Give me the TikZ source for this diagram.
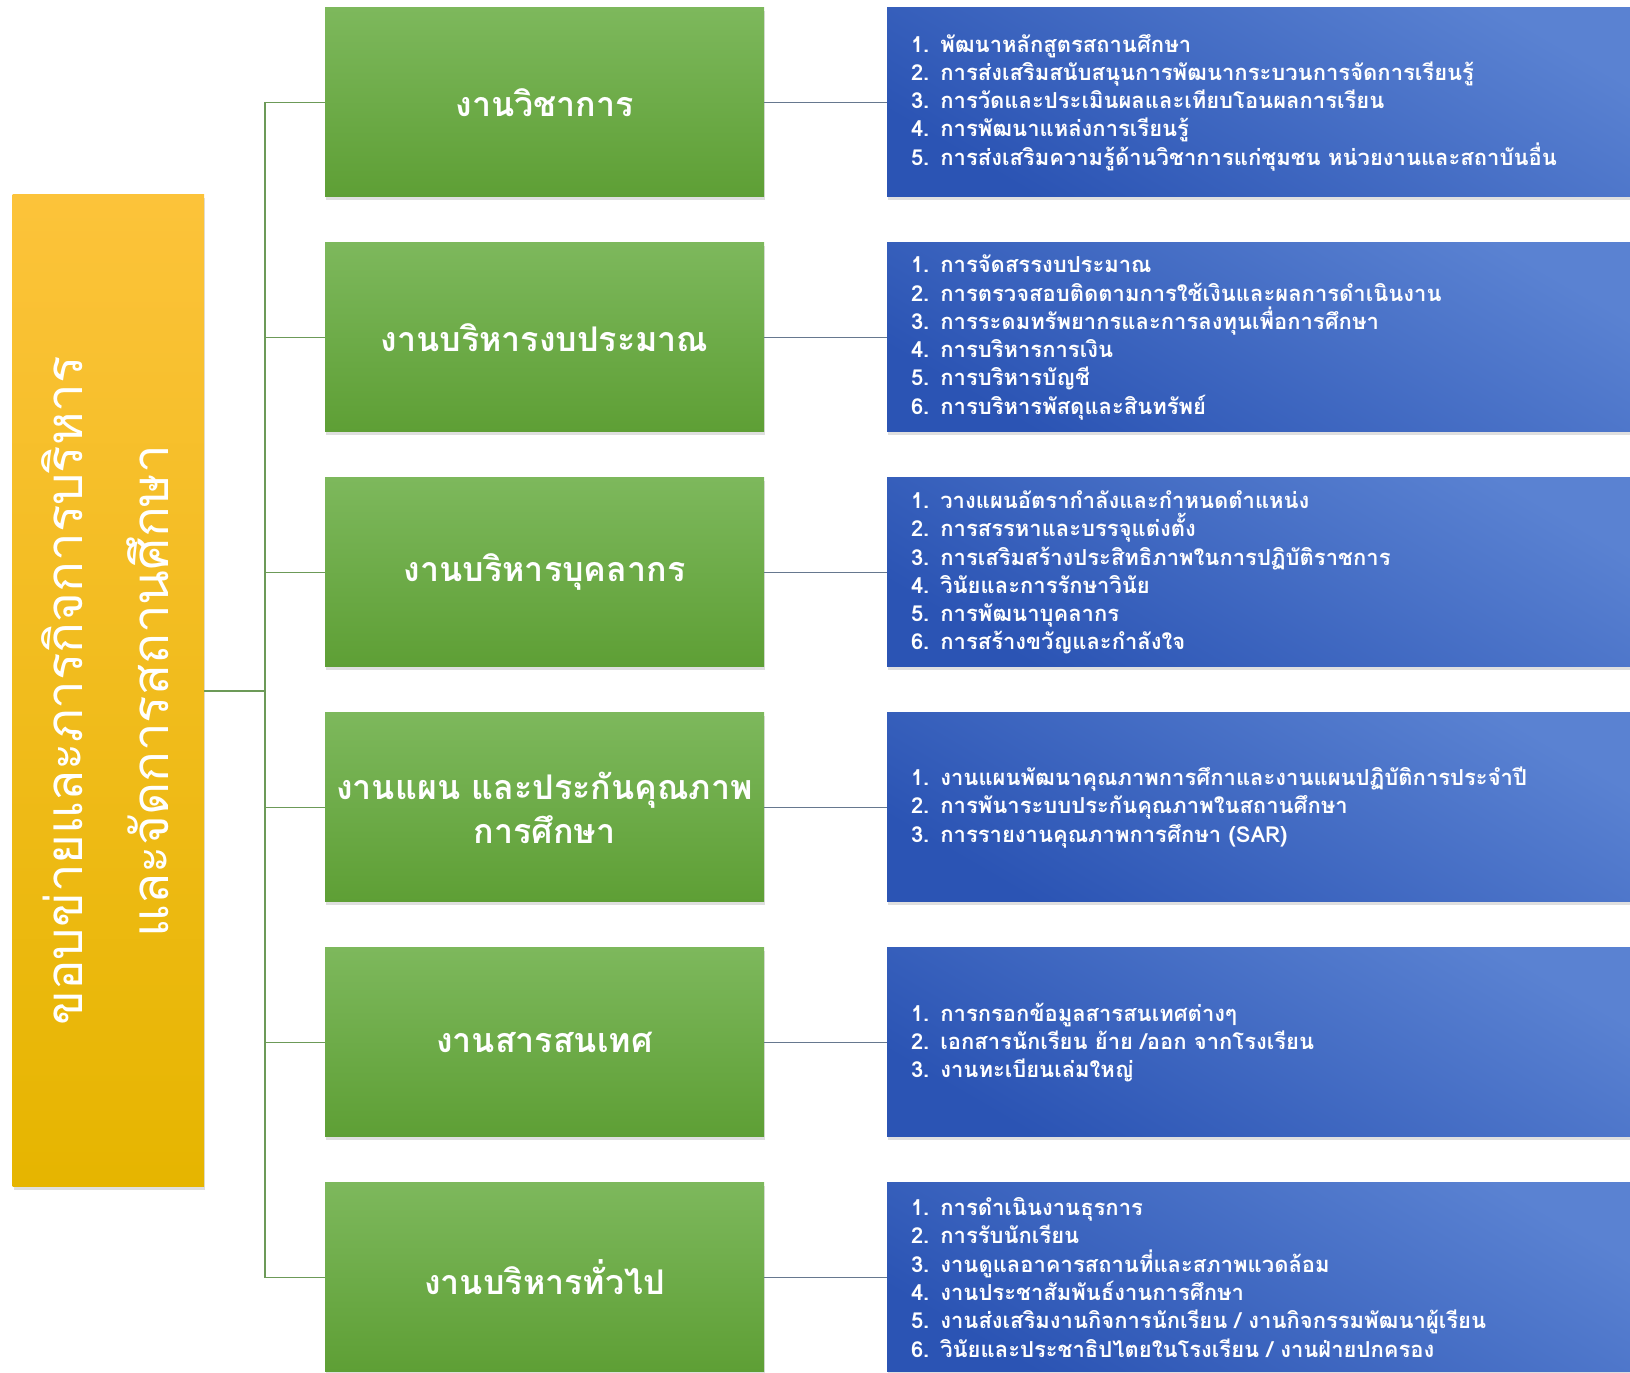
\documentclass[tikz,border=0pt]{standalone}
\usepackage{fontspec}
\newfontfamily\thaifont[Script=Thai]{Loma}
\usetikzlibrary{positioning,shadows}
\definecolor{workTop}{HTML}{7DB85C}
\definecolor{workBot}{HTML}{5E9F35}
\definecolor{dutyTop}{HTML}{5A82D2}
\definecolor{dutyBot}{HTML}{2B54B4}
\definecolor{rootTop}{HTML}{FCC33A}
\definecolor{rootBot}{HTML}{E6B500}
\definecolor{trunkLine}{HTML}{6C9A58}
\definecolor{dutyLine}{HTML}{66788F}
\tikzset{
  box/.style    = {shape=rectangle, inner sep=0pt, outer sep=0pt, text=white,
                   drop shadow={shadow xshift=1pt, shadow yshift=-3pt,
                                opacity=0.25}},
  root/.style   = {box, minimum width=191.5pt, minimum height=992pt,
                   top color=rootTop, bottom color=rootBot,
                   font=\thaifont\fontsize{51}{86}\selectfont},
  work/.style   = {box, minimum width=439pt, minimum height=189pt,
                   align=center, top color=workTop, bottom color=workBot,
                   font=\thaifont\bfseries\fontsize{34}{44}\selectfont},
  duty/.style   = {box, minimum width=760pt, minimum height=189pt,
                   text width=712pt, inner xsep=24pt, align=left,
                   top color=dutyTop, bottom color=dutyBot, shading angle=-30,
                   font=\thaifont\bfseries\fontsize{22}{28.3}\selectfont},
  trunk/.style  = {draw=trunkLine, line width=1.5pt},
  branch/.style = {draw=dutyLine, line width=1.5pt}
}

\begin{document}
\begin{tikzpicture}
  [
    x                 = 1pt,
    y                 = 1pt,
    node distance     = 46pt and 123pt
  ]
\useasboundingbox (0,0) rectangle (1630,1373);

% main box
\node [root] (root) at (108.3,682)
  {\rotatebox{90}{\begin{tabular}{@{}c@{}}ขอบข่ายและภารกิจการบริหาร\\และจัดการสถานศึกษา\end{tabular}}};

% work groups
\node [work] (w1) at (544.5,1270.5) {งานวิชาการ};
\node [work, below=of w1] (w2) {งานบริหารงบประมาณ};
\node [work, below=of w2] (w3) {งานบริหารบุคลากร};
\node [work, below=of w3] (w4) {งานแผน และประกันคุณภาพ\\การศึกษา};
\node [work, below=of w4] (w5) {งานสารสนเทศ};
\node [work, below=of w5] (w6) {งานบริหารทั่วไป};

% duties
\node [duty, right=of w1] (d1) {1. พัฒนาหลักสูตรสถานศึกษา\\
  2. การส่งเสริมสนับสนุนการพัฒนากระบวนการจัดการเรียนรู้\\
  3. การวัดและประเมินผลและเทียบโอนผลการเรียน\\
  4. การพัฒนาแหล่งการเรียนรู้\\
  5. การส่งเสริมความรู้ด้านวิชาการแก่ชุมชน หน่วยงานและสถาบันอื่น};
\node [duty, right=of w2] (d2) {1. การจัดสรรงบประมาณ\\
  2. การตรวจสอบติดตามการใช้เงินและผลการดำเนินงาน\\
  3. การระดมทรัพยากรและการลงทุนเพื่อการศึกษา\\
  4. การบริหารการเงิน\\
  5. การบริหารบัญชี\\
  6. การบริหารพัสดุและสินทรัพย์};
\node [duty, right=of w3] (d3) {1. วางแผนอัตรากำลังและกำหนดตำแหน่ง\\
  2. การสรรหาและบรรจุแต่งตั้ง\\
  3. การเสริมสร้างประสิทธิภาพในการปฏิบัติราชการ\\
  4. วินัยและการรักษาวินัย\\
  5. การพัฒนาบุคลากร\\
  6. การสร้างขวัญและกำลังใจ};
\node [duty, right=of w4] (d4) {1. งานแผนพัฒนาคุณภาพการศึกาและงานแผนปฏิบัติการประจำปี\\
  2. การพันาระบบประกันคุณภาพในสถานศึกษา\\
  3. การรายงานคุณภาพการศึกษา (SAR)};
\node [duty, right=of w5] (d5) {1. การกรอกข้อมูลสารสนเทศต่างๆ\\
  2. เอกสารนักเรียน ย้าย /ออก จากโรงเรียน\\
  3. งานทะเบียนเล่มใหญ่};
\node [duty, right=of w6] (d6) {1. การดำเนินงานธุรการ\\
  2. การรับนักเรียน\\
  3. งานดูแลอาคารสถานที่และสภาพแวดล้อม\\
  4. งานประชาสัมพันธ์งานการศึกษา\\
  5. งานส่งเสริมงานกิจการนักเรียน / งานกิจกรรมพัฒนาผู้เรียน\\
  6. วินัยและประชาธิปไตยในโรงเรียน / งานฝ่ายปกครอง};

% connectors
\coordinate (fork) at (265,0);
\foreach \w in {w1,w2,w3,w4,w5,w6}
  \draw [trunk] (root.east) -- (fork |- root.east) |- (\w.west);
\draw [branch] (w1) -- (d1);
\draw [branch] (w2) -- (d2);
\draw [branch] (w3) -- (d3);
\draw [branch] (w4) -- (d4);
\draw [branch] (w5) -- (d5);
\draw [branch] (w6) -- (d6);
\end{tikzpicture}
\end{document}
